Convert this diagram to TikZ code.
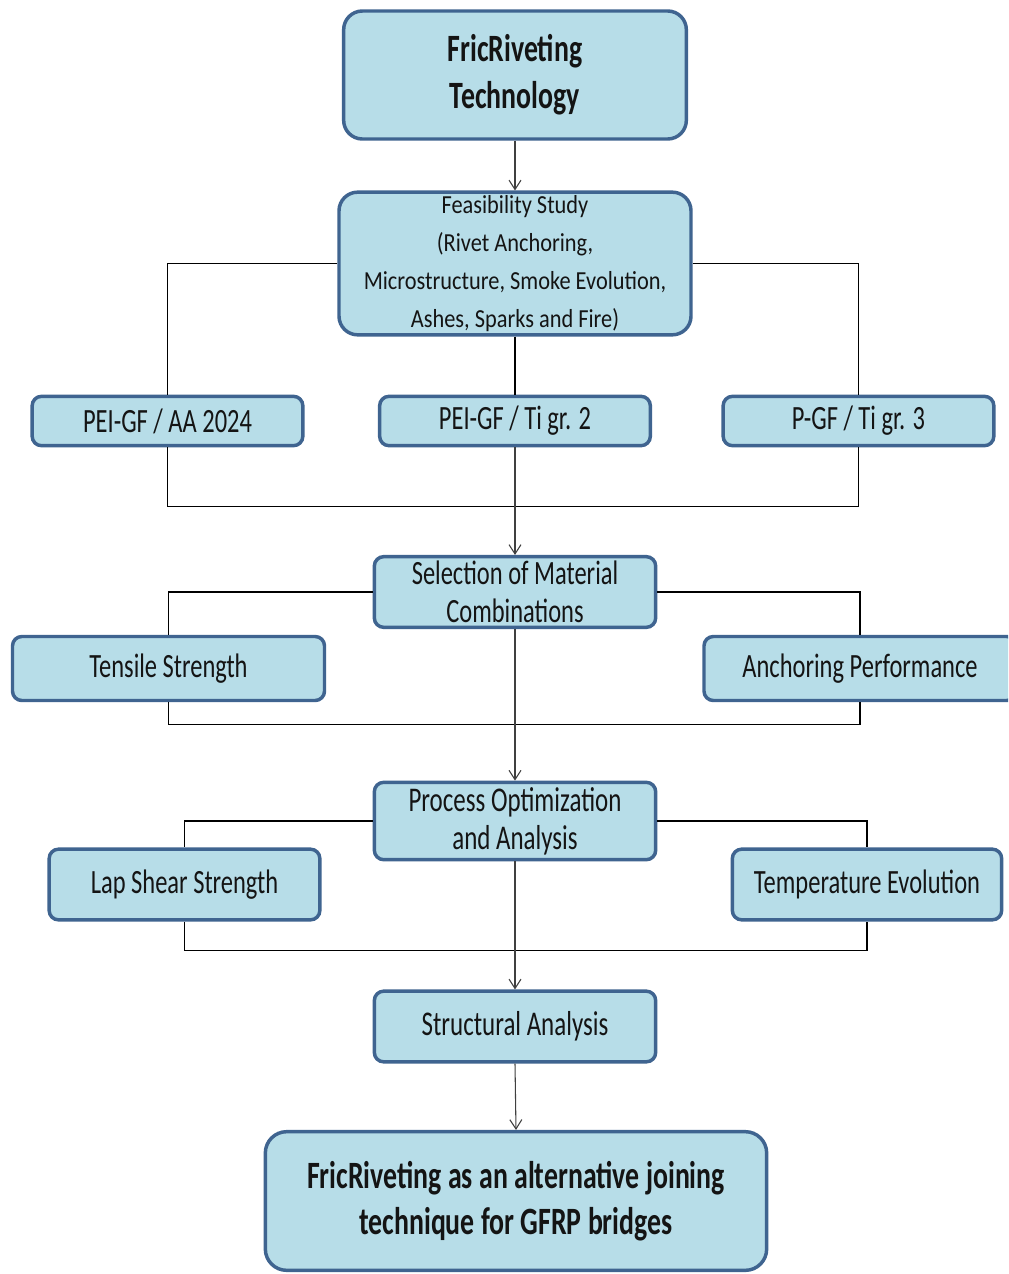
\documentclass[tikz,border=0pt]{standalone}
\usepackage{fontspec}
\setmainfont{Carlito}[FakeStretch=0.72]
\newfontfamily\feasfont{Carlito}[FakeStretch=0.86]
\usetikzlibrary{arrows.meta}
\definecolor{boxfill}{HTML}{B7DDE8}
\definecolor{boxline}{HTML}{3F6490}
\definecolor{txt}{HTML}{141414}
\tikzset{
  box/.style={draw=boxline, fill=boxfill, line width=2.6pt, rounded corners=7pt,
    align=center, text=txt, inner sep=0pt},
  conn/.style={draw=black, line width=0.8pt},
  arr/.style={draw=black!75, line width=0.8pt, -{Straight Barb[length=7pt,width=9pt]}},
}
\newcommand{\fs}[2]{\fontsize{#1}{#2}\selectfont}
\begin{document}
\begin{tikzpicture}[x=0.75pt,y=-0.75pt]
\useasboundingbox (0,0) rectangle (1008,1274);
\clip (0,0) rectangle (1008,1274);
\fill[white] (0,0) rectangle (1008,1274);

\node[box, rounded corners=14pt, minimum width=257pt, minimum height=96pt, font=\fs{29}{35}\bfseries] (top) at (515,75) {FricRiveting\\Technology};
\node[box, rounded corners=14pt, minimum width=264pt, minimum height=107pt, font=\feasfont\fs{19.5}{28.3}] (feas) at (515,263.5) {Feasibility Study\\(Rivet Anchoring,\\Microstructure, Smoke Evolution,\\Ashes, Sparks and Fire)};

\node[box, minimum width=203pt, minimum height=37pt, font=\fs{25.5}{30}] (peiaa) at (167.5,421) {PEI-GF / AA 2024};
\node[box, minimum width=203pt, minimum height=37pt, font=\fs{25.5}{30}] (ti2) at (515,421) {PEI-GF / Ti gr. 2};
\node[box, minimum width=203pt, minimum height=37pt, font=\fs{25.5}{30}] (pgf) at (858.5,421) {P-GF / Ti gr. 3};

\node[box, minimum width=211pt, minimum height=53pt, font=\fs{25.5}{28.5}] (sel) at (515,592) {Selection of Material\\Combinations};
\node[box, minimum width=234pt, minimum height=48pt, font=\fs{25.5}{30}] (tens) at (168.5,668.5) {Tensile Strength};
\node[box, minimum width=234pt, minimum height=48pt, font=\fs{25.5}{30}] (anch) at (860,668.5) {Anchoring Performance};

\node[box, minimum width=211pt, minimum height=58pt, font=\fs{26}{28.5}] (proc) at (515,821) {Process Optimization\\and Analysis};
\node[box, minimum width=203pt, minimum height=53pt, font=\fs{25.5}{30}] (lap) at (184.5,884.5) {Lap Shear Strength};
\node[box, minimum width=202pt, minimum height=53pt, font=\fs{25.5}{30}] (temp) at (867,884.5) {Temperature Evolution};

\node[box, minimum width=211pt, minimum height=53pt, font=\fs{26}{30}] (struct) at (515,1026.5) {Structural Analysis};
\node[box, rounded corners=16pt, minimum width=376pt, minimum height=104pt, font=\fs{29}{34}\bfseries] (final) at (516,1201) {FricRiveting as an alternative joining\\technique for GFRP bridges};

\draw[arr] (top.south) -- (feas.north);
\draw[conn] (feas.west) -| (peiaa.north);
\draw[conn] (feas.east) -| (pgf.north);
\draw[conn] (feas.south) -- (ti2.north);
\draw[conn] (peiaa.south) -- ++(0,59) -| (pgf.south);
\draw[arr] (ti2.south) -- (sel.north);

\draw[conn] (sel.west) -| (tens.north);
\draw[conn] (sel.east) -| (anch.north);
\draw[conn] (tens.south) -- ++(0,22) -| (anch.south);
\draw[arr] (sel.south) -- (proc.north);

\draw[conn] (proc.west) -| (lap.north);
\draw[conn] (proc.east) -| (temp.north);
\draw[conn] (lap.south) -- ++(0,29) -| (temp.south);
\draw[arr] (proc.south) -- (struct.north);
\draw[arr] (struct.south) -- (final.north);
\end{tikzpicture}
\end{document}
